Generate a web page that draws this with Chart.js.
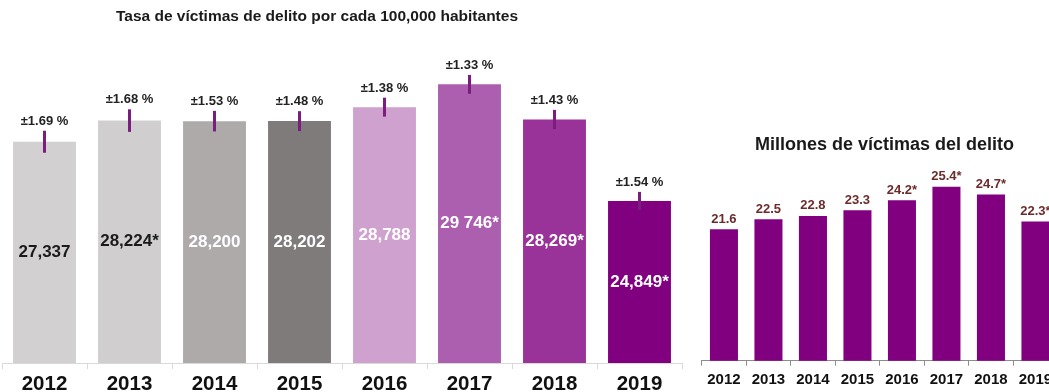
<!DOCTYPE html>
<html><head><meta charset="utf-8">
<script src="https://cdn.jsdelivr.net/npm/chart.js@4"></script>
<style>
html,body{margin:0;padding:0;background:#fff;width:1049px;height:392px;overflow:hidden;position:relative}
#c1{position:absolute;left:0;top:0}
#c2{position:absolute;left:690px;top:0}
</style></head><body>
<canvas id="c1" width="700" height="400" style="width:700px;height:400px"></canvas>
<canvas id="c2" width="380" height="400" style="width:380px;height:400px"></canvas>
<script>
// ---- data ----
const years = ['2012','2013','2014','2015','2016','2017','2018','2019'];
const rateTitle = 'Tasa de víctimas de delito por cada 100,000 habitantes';
const rateValues = [27337, 28224, 28200, 28202, 28788, 29746, 28269, 24849];
const rateLabels = ['27,337','28,224*','28,200','28,202','28,788','29 746*','28,269*','24,849*'];
const rateErrorPct = [1.69, 1.68, 1.53, 1.48, 1.38, 1.33, 1.43, 1.54];
const rateErrorLabels = ['±1.69 %','±1.68 %','±1.53 %','±1.48 %','±1.38 %','±1.33 %','±1.43 %','±1.54 %'];
const rateColors = ['#d3d0d1','#d1cecf','#aeaaaa','#807b7b','#cfa1cf','#ab5fae','#993399','#800080'];
const rateLabelColors = ['#1a1a1a','#1a1a1a','#ffffff','#ffffff','#ffffff','#ffffff','#ffffff','#ffffff'];

const victimTitle = 'Millones de víctimas del delito';
const victimValues = [21.6, 22.5, 22.8, 23.3, 24.2, 25.4, 24.7, 22.3];
const victimLabels = ['21.6','22.5','22.8','23.3','24.2*','25.4*','24.7*','22.3*'];

const FONT = '"Liberation Sans", Arial, Helvetica, sans-serif';
Chart.defaults.font.family = FONT;

// ---- left chart ----
const leftOverlay = {
  id: 'leftOverlay',
  afterDatasetsDraw(chart) {
    const ctx = chart.ctx, y = chart.scales.y;
    const meta = chart.getDatasetMeta(0);
    const basePx = chart.chartArea.bottom;
    ctx.save();
    ctx.textAlign = 'center';
    ctx.textBaseline = 'middle';
    meta.data.forEach((bar, i) => {
      const v = rateValues[i], e = v * rateErrorPct[i] / 100;
      const yTop = y.getPixelForValue(v + e), yBot = y.getPixelForValue(v - e);
      const yVal = y.getPixelForValue(v);
      ctx.strokeStyle = '#7b1d7d';
      ctx.lineWidth = 3;
      ctx.beginPath(); ctx.moveTo(bar.x, yTop); ctx.lineTo(bar.x, yBot); ctx.stroke();
      ctx.font = 'bold 13px ' + FONT;
      ctx.fillStyle = '#222222';
      ctx.fillText(rateErrorLabels[i], bar.x, yTop - 9.5);
      ctx.font = 'bold 17px ' + FONT;
      ctx.fillStyle = rateLabelColors[i];
      ctx.fillText(rateLabels[i], bar.x, (yVal + basePx) / 2);
    });
    ctx.font = 'bold 15.5px ' + FONT;
    ctx.fillStyle = '#1a1a1a';
    ctx.fillText(rateTitle, 317, 17);
    ctx.restore();
  }
};

new Chart(document.getElementById('c1'), {
  type: 'bar',
  data: { labels: years, datasets: [{ data: rateValues, backgroundColor: rateColors, borderWidth: 0, barPercentage: 0.74, categoryPercentage: 1 }] },
  options: {
    responsive: false, animation: false,
    layout: { padding: { left: 2, right: 18, top: 30, bottom: 0 } },
    plugins: { legend: { display: false }, tooltip: { enabled: false }, title: { display: false } },
    scales: {
      x: {
        afterFit(scale) { scale.height = 37; },
        grid: { display: true, drawOnChartArea: false, drawTicks: true, tickLength: 6, color: '#d9d9d9', offset: true },
        border: { display: true, color: '#d9d9d9', width: 1 },
        ticks: { font: { size: 20.5, weight: 'bold' }, color: '#111111', padding: 3.4 }
      },
      y: { display: false, min: 18050, max: 32026 }
    }
  },
  plugins: [leftOverlay]
});

// ---- right chart ----
const rightOverlay = {
  id: 'rightOverlay',
  afterDatasetsDraw(chart) {
    const ctx = chart.ctx;
    const meta = chart.getDatasetMeta(0);
    ctx.save();
    ctx.textAlign = 'center';
    ctx.textBaseline = 'middle';
    ctx.font = 'bold 13px ' + FONT;
    ctx.fillStyle = '#6e2a2a';
    meta.data.forEach((bar, i) => {
      ctx.fillText(victimLabels[i], bar.x, bar.y - 10);
    });
    ctx.font = 'bold 18px ' + FONT;
    ctx.fillStyle = '#1a1a1a';
    ctx.fillText(victimTitle, 884.5 - 690, 145);
    ctx.restore();
  }
};

new Chart(document.getElementById('c2'), {
  type: 'bar',
  data: { labels: years, datasets: [{ data: victimValues, backgroundColor: '#800080', borderWidth: 0, barPercentage: 0.63, categoryPercentage: 1 }] },
  options: {
    responsive: false, animation: false,
    layout: { padding: { left: 11.7, right: 12.3, top: 150, bottom: 0 } },
    plugins: { legend: { display: false }, tooltip: { enabled: false }, title: { display: false } },
    scales: {
      x: {
        afterFit(scale) { scale.height = 39.3; },
        grid: { display: true, drawOnChartArea: false, drawTicks: true, tickLength: 5, color: '#8c8c8c', offset: true },
        border: { display: true, color: '#8c8c8c', width: 1 },
        ticks: { font: { size: 15, weight: 'bold' }, color: '#111111', padding: 5.6 }
      },
      y: { display: false, min: 9.88, max: 28.68 }
    }
  },
  plugins: [rightOverlay]
});
</script>
</body></html>
